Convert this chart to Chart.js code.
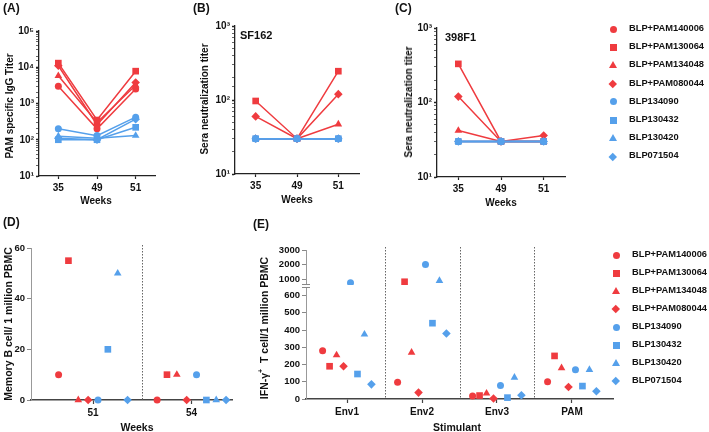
<!DOCTYPE html>
<html><head><meta charset="utf-8">
<script src="https://cdn.jsdelivr.net/npm/chart.js@4.4.0/dist/chart.umd.min.js"></script>
<style>
body{margin:0;width:709px;height:432px;position:relative;background:#fff;overflow:hidden;font-family:"Liberation Sans",Arial,sans-serif;font-weight:bold;color:#111}
canvas{position:absolute}
.t{position:absolute;white-space:nowrap;font-weight:bold;line-height:1}
.rot{transform:translate(-50%,-50%) rotate(-90deg)}
.ctr{transform:translate(-50%,-50%)}
.lg{position:absolute;font-size:9.3px;font-weight:bold;white-space:nowrap;line-height:1;transform:translateY(-50%)}
.mk{position:absolute}
</style></head><body>
<canvas id="cA" width="165" height="200" style="left:0;top:0"></canvas>
<canvas id="cB" width="170" height="200" style="left:196px;top:0"></canvas>
<canvas id="cC" width="175" height="203" style="left:398px;top:0"></canvas>
<canvas id="cD" width="240" height="217" style="left:0;top:215px"></canvas>
<canvas id="cEu" width="370" height="45" style="left:250px;top:240px"></canvas>
<canvas id="cEl" width="370" height="147" style="left:250px;top:285px"></canvas>

<div class="t" style="left:3px;top:2px;font-size:12px">(A)</div>
<div class="t" style="left:193px;top:2px;font-size:12px">(B)</div>
<div class="t" style="left:395px;top:2px;font-size:12px">(C)</div>
<div class="t" style="left:3px;top:216px;font-size:12px">(D)</div>
<div class="t" style="left:253px;top:218px;font-size:12px">(E)</div>

<div class="t rot" style="left:10px;top:106px;font-size:10px">PAM specific IgG Titer</div>
<div class="t rot" style="left:205px;top:99px;font-size:10px">Sera neutralization titer</div>
<div class="t rot" style="left:409px;top:102px;font-size:10px">Sera neutralization titer</div>
<div class="t rot" style="left:8px;top:324px;font-size:10.5px">Memory B cell/ 1 million PBMC</div>
<div class="t rot" style="left:263px;top:328px;font-size:10.5px">IFN-γ<sup style="font-size:7px">+</sup>&nbsp; T cell/1 million PBMC</div>

<div class="t ctr" style="left:96px;top:201px;font-size:10px">Weeks</div>
<div class="t ctr" style="left:297px;top:200px;font-size:10px">Weeks</div>
<div class="t ctr" style="left:501px;top:203px;font-size:10px">Weeks</div>
<div class="t ctr" style="left:137px;top:427px;font-size:10.5px">Weeks</div>
<div class="t ctr" style="left:457px;top:427px;font-size:10.5px">Stimulant</div>

<div class="t" style="left:240px;top:30px;font-size:11px">SF162</div>
<div class="t" style="left:445px;top:32px;font-size:11px">398F1</div>

<div id="legends"></div>

<script>
// ---------- data ----------
const subjects = ['BLP+PAM140006','BLP+PAM130064','BLP+PAM134048','BLP+PAM080044','BLP134090','BLP130432','BLP130420','BLP071504'];
const weekLabels = ['35','49','51'];
const logTickLabels = ['10¹','10²','10³','10⁴','10⁵'];
// (A) PAM specific IgG titer, one row per subject (weeks 35, 49, 51)
const pamIgG = [
  [3000, 200, 2500],
  [13000, 350, 7800],
  [5800, 300, 3200],
  [11000, 260, 3800],
  [200, 130, 420],
  [100, 100, 220],
  [125, 110, 130],
  [110, 100, 370]
];
// (B) SF162 neutralization titer
const sf162 = [
  [30, 30, 30],
  [97, 30, 245],
  [30, 30, 47],
  [60, 30, 120],
  [30, 30, 30],
  [30, 30, 30],
  [30, 30, 30],
  [30, 30, 30]
];
// (C) 398F1 neutralization titer
const f398 = [
  [30, 30, 30],
  [330, 30, 30],
  [42, 30, 30],
  [120, 30, 36],
  [30, 30, 30],
  [30, 30, 30],
  [30, 30, 30],
  [30, 30, 30]
];
// (D) memory B cells per 1 million PBMC, per week (subjects in order)
const memWeeks = ['51','54'];
const memB51 = [10, 55, 0, 0, 0, 20, 50, 0];
const memB54 = [0, 10, 10, 0, 10, 0, 0, 0];
const memTicks = [0, 20, 40, 60];
// (E) IFN-γ+ T cells per 1 million PBMC, per stimulant (subjects in order)
const stimulants = ['Env1','Env2','Env3','PAM'];
const ifnEnv1 = [280, 190, 255, 190, 750, 145, 375, 85];
const ifnEnv2 = [97, 820, 270, 37, 2000, 440, 890, 380];
const ifnEnv3 = [18, 20, 33, 3, 78, 8, 125, 22];
const ifnPAM = [100, 250, 180, 70, 170, 75, 170, 45];
const ifnTicksLow = [0, 100, 200, 300, 400, 500, 600];
const ifnTicksHigh = [1000, 2000, 3000];

// ---------- styles ----------
const RED = '#EF3B3F', BLUE = '#55A0EB';
const shapes = ['circle','rect','triangle','rectRot'];
const radii = {circle:3.5, rect:4.7, triangle:4.4, rectRot:4.3};
const colorOf = i => i < 4 ? RED : BLUE;
const shapeOf = i => shapes[i % 4];
const FF = '"Liberation Sans", Arial, sans-serif';
const FONT = {family:FF, weight:'bold', size:10};
const FONT2 = {family:FF, weight:'bold', size:9.5};
Chart.defaults.font.family = FF;

function zeroPad(s){ s.paddingTop=0; s.paddingBottom=0; s.paddingLeft=0; s.paddingRight=0; }
function isPow(v){ const e=Math.log10(v); return Math.abs(e-Math.round(e))<1e-6; }

function logPanel(id, rows, ymax, yw, pad, xh){
  const ds = rows.map((r,i)=>({
    label:subjects[i], data:r, borderColor:colorOf(i), backgroundColor:colorOf(i),
    pointStyle:shapeOf(i), pointRadius:radii[shapeOf(i)], pointBorderWidth:0,
    borderWidth:1.5, order:i<4?2:1, clip:false, tension:0
  }));
  return new Chart(document.getElementById(id), {
    type:'line',
    data:{labels:weekLabels, datasets:ds},
    options:{
      responsive:false, animation:false, devicePixelRatio:1,
      layout:{padding:pad, autoPadding:false},
      plugins:{legend:{display:false}, tooltip:{enabled:false}},
      scales:{
        x:{type:'category', offset:true,
          grid:{display:true, drawOnChartArea:false, offset:false, tickLength:3, tickColor:'#222', tickWidth:1.2},
          border:{color:'#222', width:1.3},
          ticks:{font:FONT, color:'#111', padding:3, maxRotation:0},
          afterFit(s){ s.height=xh; zeroPad(s); }},
        y:{type:'logarithmic', min:10, max:ymax,
          grid:{display:true, drawOnChartArea:false, tickLength:3, tickColor:'#222',
            tickWidth:c=> (c.tick && isPow(c.tick.value)) ? 1.3 : 0.7},
          border:{color:'#222', width:1.3},
          ticks:{font:FONT, color:'#111', padding:2, autoSkip:false,
            callback:v=> isPow(v) ? logTickLabels[Math.round(Math.log10(v))-1] : ''},
          afterFit(s){ s.width=yw; zeroPad(s); }}
      }
    }
  });
}

logPanel('cA', pamIgG, 100000, 39, {top:31, right:10, left:0, bottom:0}, 24);
logPanel('cB', sf162, 1000, 39, {top:26, right:7, left:0, bottom:0}, 26);
logPanel('cC', f398, 1000, 39, {top:28, right:8, left:0, bottom:0}, 26);

// divider / break plugin
const deco = {
  id:'deco',
  beforeDatasetsDraw(chart, args, opts){
    const ctx = chart.ctx, xs = chart.scales.x, ca = chart.chartArea;
    ctx.save();
    ctx.strokeStyle = '#666'; ctx.lineWidth = 1; ctx.setLineDash([1.5,1.5]);
    (opts.values||[]).forEach(v=>{
      const px = Math.round(xs.getPixelForValue(v))+0.5;
      ctx.beginPath();
      ctx.moveTo(px, opts.top);
      ctx.lineTo(px, opts.bottom==='area' ? ca.bottom : opts.bottom);
      ctx.stroke();
    });
    ctx.setLineDash([]);
    if (opts.cap){
      ctx.strokeStyle = '#888'; ctx.lineWidth = 1;
      const y = Math.round(opts.cap==='bottom' ? ca.bottom : ca.top)+0.5;
      ctx.beginPath(); ctx.moveTo(ca.left-4, y); ctx.lineTo(ca.left+4, y); ctx.stroke();
    }
    ctx.restore();
  }
};

function scatterPanel(id, groups, spread, filter, xr, yr, yticks, xLabels, yw, pad, xh, showX, decoOpts){
  const ds = subjects.map((name,i)=>({
    label:name,
    data: groups.map((g,gi)=>({x:gi+1+(i-3.5)*spread, y:g[i]})).filter(p=>filter(p.y)),
    backgroundColor:colorOf(i), borderColor:colorOf(i),
    pointStyle:shapeOf(i), pointRadius:radii[shapeOf(i)], pointBorderWidth:0, clip:false
  }));
  return new Chart(document.getElementById(id), {
    type:'scatter',
    data:{datasets:ds},
    plugins:[deco],
    options:{
      responsive:false, animation:false, devicePixelRatio:1,
      layout:{padding:pad, autoPadding:false},
      plugins:{legend:{display:false}, tooltip:{enabled:false}, deco:decoOpts},
      scales:{
        x:{type:'linear', min:xr[0], max:xr[1], display:showX,
          afterBuildTicks(s){ s.ticks = xLabels.map((_,k)=>({value:k+1})); },
          grid:{display:true, drawOnChartArea:false, tickLength:4, tickColor:'#444', tickWidth:1.2},
          border:{color:'#444', width:1.5},
          ticks:{font:FONT, color:'#111', padding:3, maxRotation:0, autoSkip:false,
            callback:(v)=> xLabels[Math.round(v)-1]},
          afterFit(s){ s.height=xh; zeroPad(s); }},
        y:{type:'linear', min:yr[0], max:yr[1],
          afterBuildTicks(s){ s.ticks = yticks.map(v=>({value:v})); },
          grid:{display:true, drawOnChartArea:false, tickLength:4, tickColor:'#888', tickWidth:1},
          border:{color:'#999', width:1},
          ticks:{font:FONT2, color:'#111', padding:2, autoSkip:false, callback:v=>String(v)},
          afterFit(s){ s.width=yw; zeroPad(s); }}
      }
    }
  });
}

// (D)
scatterPanel('cD', [memB51, memB54], 0.1, ()=>true, [0.37, 2.41], [0, 60], memTicks, memWeeks,
  31, {top:33, right:8, left:0, bottom:0}, 32, true, {values:[1.5], top:30, bottom:'area'});
// (E) upper segment
const ifnGroups = [ifnEnv1, ifnEnv2, ifnEnv3, ifnPAM];
scatterPanel('cEu', ifnGroups, 0.093, v=>v>650, [0.453, 4.547], [700, 3000], ifnTicksHigh, stimulants,
  56, {top:10, right:7, left:0, bottom:1.5}, 0, false, {values:[1.5,2.5,3.5], top:7, bottom:45, cap:'bottom'});
// (E) lower segment
scatterPanel('cEl', ifnGroups, 0.093, v=>v<=650, [0.453, 4.547], [0, 650], ifnTicksLow, stimulants,
  56, {top:2, right:7, left:0, bottom:0}, 33, true, {values:[1.5,2.5,3.5], top:0, bottom:'area', cap:'top'});

// legends
function marker(shape, color, cx, cy){
  const d = document.createElement('div');
  d.className = 'mk';
  if (shape==='circle'){ Object.assign(d.style,{width:'7px',height:'7px',borderRadius:'50%',background:color,left:(cx-3.5)+'px',top:(cy-3.5)+'px'}); }
  else if (shape==='rect'){ Object.assign(d.style,{width:'7px',height:'7px',background:color,left:(cx-3.5)+'px',top:(cy-3.5)+'px'}); }
  else if (shape==='triangle'){ Object.assign(d.style,{width:'0',height:'0',borderLeft:'4px solid transparent',borderRight:'4px solid transparent',borderBottom:'7px solid '+color,left:(cx-4)+'px',top:(cy-4)+'px'}); }
  else { Object.assign(d.style,{width:'5.5px',height:'5.5px',background:color,transform:'rotate(45deg)',left:(cx-2.75)+'px',top:(cy-2.75)+'px'}); }
  return d;
}
function legend(mx, tx, y0, dy){
  const root = document.getElementById('legends');
  subjects.forEach((name,i)=>{
    const y = y0 + i*dy;
    root.appendChild(marker(shapeOf(i), colorOf(i), mx, y));
    const t = document.createElement('div');
    t.className='lg'; t.textContent=name;
    t.style.left = tx+'px'; t.style.top = y+'px';
    root.appendChild(t);
  });
}
legend(613, 629, 29, 18.2);
legend(616, 632, 255, 18);
</script>
</body></html>
